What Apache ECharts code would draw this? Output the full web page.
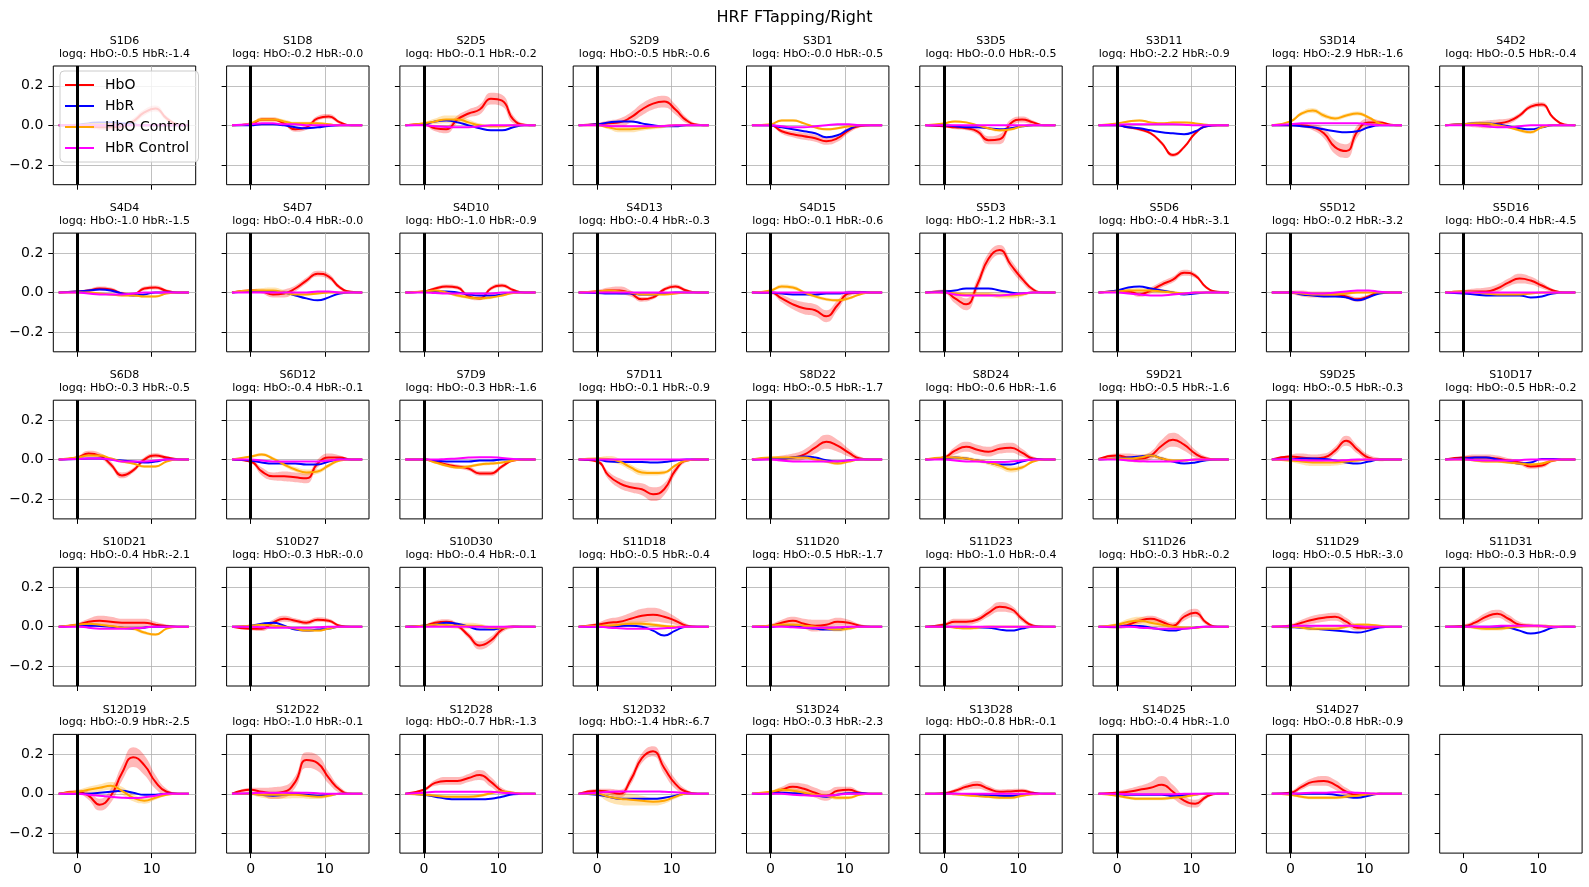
<!DOCTYPE html>
<html><head><meta charset="utf-8">
<script src="https://cdn.jsdelivr.net/npm/echarts@6/dist/echarts.min.js"></script>
<style>html,body{margin:0;padding:0;background:#fff}#c{width:1589px;height:887px}</style>
</head><body><div id="c"></div>
<script>
const chartTitle = 'HRF FTapping/Right';
const seriesNames = ['HbO', 'HbR', 'HbO Control', 'HbR Control'];
const times = [-2.5, 0, 1.5, 3, 4.5, 6, 7.5, 9, 10.5, 12, 13.5, 15];
const xTicks = [0, 10];
const yTicks = [-0.2, 0, 0.2];
const stimOnset = 0;
const channels = ['S1D6','S1D8','S2D5','S2D9','S3D1','S3D5','S3D11','S3D14','S4D2',
 'S4D4','S4D7','S4D10','S4D13','S4D15','S5D3','S5D6','S5D12','S5D16',
 'S6D8','S6D12','S7D9','S7D11','S8D22','S8D24','S9D21','S9D25','S10D17',
 'S10D21','S10D27','S10D30','S11D18','S11D20','S11D23','S11D26','S11D29','S11D31',
 'S12D19','S12D22','S12D28','S12D32','S13D24','S13D28','S14D25','S14D27'];
const logqHbO = ['-0.5','-0.2','-0.1','-0.5','-0.0','-0.0','-2.2','-2.9','-0.5',
 '-1.0','-0.4','-1.0','-0.4','-0.1','-1.2','-0.4','-0.2','-0.4',
 '-0.3','-0.4','-0.3','-0.1','-0.5','-0.6','-0.5','-0.5','-0.5',
 '-0.4','-0.3','-0.4','-0.5','-0.5','-1.0','-0.3','-0.5','-0.3',
 '-0.9','-1.0','-0.7','-1.4','-0.3','-0.8','-0.4','-0.8'];
const logqHbR = ['-1.4','-0.0','-0.2','-0.6','-0.5','-0.5','-0.9','-1.6','-0.4',
 '-1.5','-0.0','-0.9','-0.3','-0.6','-3.1','-3.1','-3.2','-4.5',
 '-0.5','-0.1','-1.6','-0.9','-1.7','-1.6','-1.6','-0.3','-0.2',
 '-2.1','-0.0','-0.1','-0.4','-1.7','-0.4','-0.2','-3.0','-0.9',
 '-2.5','-0.1','-1.3','-6.7','-2.3','-0.1','-1.0','-0.9'];

// HbO mean per channel, at `times`
const hbo = [
[0,0,-0.005,-0.01,-0.01,-0.005,0.02,0.065,0.085,0.035,0.005,0],
[0,0.005,0.03,0.03,0.01,-0.02,-0.01,0.035,0.045,0.015,0,0],
[0,0.005,-0.015,-0.02,0.03,0.06,0.08,0.135,0.125,0.03,0.003,0],
[0,0.005,0.01,0.015,0.04,0.08,0.11,0.12,0.08,0.025,0.003,0],
[0,0,-0.03,-0.045,-0.055,-0.065,-0.08,-0.065,-0.025,-0.003,0,0],
[0,-0.005,-0.01,-0.015,-0.03,-0.075,-0.07,0.01,0.03,0.015,0,0],
[0,0,-0.01,-0.02,-0.04,-0.09,-0.15,-0.11,-0.04,-0.005,0,0],
[0,0,0,-0.01,-0.04,-0.11,-0.13,-0.03,0.015,0.015,0.003,0],
[0,0.005,0.005,0.005,0.01,0.02,0.05,0.095,0.105,0.04,0.005,0],
[0,0.005,0.01,0.02,0.015,-0.005,-0.01,0.02,0.025,0.008,0,0],
[0,0.01,0.005,-0.01,-0.005,0.02,0.06,0.095,0.08,0.025,0.003,0],
[0,0.005,0.02,0.03,0.025,-0.02,-0.03,0.02,0.035,0.012,0,0],
[0,0.005,0.01,0.01,-0.005,-0.035,-0.025,0.015,0.03,0.01,0,0],
[0,0,-0.03,-0.06,-0.08,-0.09,-0.12,-0.065,-0.005,0,0,0],
[0,0.005,-0.03,-0.06,0.04,0.17,0.215,0.14,0.07,0.015,0,0],
[0,0.005,0.005,-0.01,0.01,0.04,0.065,0.1,0.085,0.025,0.003,0],
[0,0,-0.005,-0.01,-0.01,-0.01,-0.02,-0.035,-0.02,0,0,0],
[0,0.005,0.005,0.005,0.02,0.05,0.07,0.06,0.035,0.01,0,0],
[0,0.01,0.03,0.02,-0.025,-0.08,-0.055,0,0.02,0.01,0.002,0],
[0,-0.01,-0.06,-0.085,-0.085,-0.09,-0.095,-0.02,0.01,0.01,0,0],
[0,0,-0.01,-0.025,-0.035,-0.045,-0.07,-0.07,-0.035,-0.005,0,0],
[0,-0.01,-0.08,-0.12,-0.14,-0.15,-0.175,-0.15,-0.055,-0.005,0,0],
[0,0.003,0.005,0.01,0.025,0.06,0.09,0.07,0.035,0.005,0,0],
[0,0.01,0.045,0.065,0.05,0.04,0.055,0.06,0.035,0.005,0,0],
[0.003,0.02,0.01,0.005,0.02,0.07,0.1,0.075,0.03,0.005,0,0],
[0,0.015,0.01,0.005,0.01,0.045,0.095,0.05,0.01,0,0,0],
[0,0.01,0.01,0.01,0.005,-0.005,-0.015,-0.035,-0.03,-0.005,0,0],
[0,0.01,0.025,0.03,0.025,0.02,0.02,0.02,0.01,0.003,0,0],
[0,-0.01,-0.01,0.02,0.04,0.03,0.02,0.035,0.03,0.005,0,0],
[0,0.005,0.02,0.025,0.005,-0.045,-0.095,-0.07,-0.015,0,0,0],
[0,0.01,0.02,0.025,0.04,0.055,0.06,0.05,0.03,0.005,0,0],
[0,0.005,0.02,0.03,0.015,0.005,0.01,0.025,0.02,0.005,0,0],
[0,0.01,0.025,0.025,0.035,0.07,0.1,0.09,0.04,0.005,0,0],
[0,0,0.01,0.03,0.04,0.025,0.005,0.05,0.07,0.02,0,0],
[0,0.005,0.02,0.035,0.045,0.05,0.025,-0.005,-0.005,0,0,0],
[0,0.003,0.02,0.05,0.065,0.04,0.01,0.005,0.003,0,0,0],
[0,0.01,-0.01,-0.055,-0.01,0.105,0.185,0.145,0.06,0.01,0,0],
[0,0.02,0.01,0.003,0.01,0.06,0.17,0.155,0.08,0.02,0,0],
[0,0.02,0.055,0.065,0.065,0.08,0.095,0.06,0.015,0.003,0,0],
[0,0.015,0.01,0,0.07,0.18,0.215,0.13,0.05,0.01,0,0],
[0,0.005,0.02,0.035,0.025,0.005,-0.01,0.015,0.02,0.005,0,0],
[0,0.003,0.015,0.035,0.045,0.025,0.01,0.012,0.015,0.005,0,0],
[0,0.005,0.01,0.02,0.03,0.045,0.01,-0.035,-0.05,-0.015,0,0],
[0,0.005,0.035,0.06,0.065,0.045,0.01,-0.005,-0.003,0,0,0]
];
// HbR mean
const hbr = [
[0,0.003,0.01,0.015,0.015,0.01,0.005,0,0,0,0,0],
[0,0,0.005,0.005,0,-0.01,-0.015,-0.01,-0.003,0,0,0],
[0,0.005,0.02,0.025,0.015,0,-0.015,-0.025,-0.025,-0.01,0,0],
[0,0.005,0.015,0.02,0.02,0.01,0,-0.005,-0.005,0,0,0],
[0,0,-0.01,-0.02,-0.03,-0.04,-0.06,-0.05,-0.02,0,0,0],
[0,0,-0.005,-0.01,-0.01,-0.015,-0.02,-0.015,-0.005,0,0,0],
[0,0,-0.01,-0.015,-0.025,-0.035,-0.04,-0.045,-0.03,-0.005,0,0],
[0,0,-0.005,-0.01,-0.02,-0.03,-0.035,-0.03,-0.01,0,0,0],
[0,0.005,0.01,0.01,0.005,-0.005,-0.015,-0.02,-0.01,0,0,0],
[0,0.005,0.01,0.015,0.01,-0.005,-0.015,-0.01,0,0,0,0],
[0,0.005,0.005,0.005,0,-0.015,-0.03,-0.04,-0.025,-0.005,0,0],
[0,0.003,0.005,0.005,0,-0.01,-0.015,-0.015,-0.01,0,0,0],
[0,-0.003,-0.005,-0.005,-0.005,-0.01,-0.01,-0.005,0,0,0,0],
[0,0,-0.005,-0.01,-0.01,-0.01,-0.005,-0.005,0,0,0,0],
[0,0.005,0.01,0.02,0.02,0.02,0.01,0,-0.005,0,0,0],
[0,0.01,0.025,0.03,0.02,0.01,0,-0.01,-0.005,0,0,0],
[0,0,-0.01,-0.015,-0.02,-0.02,-0.025,-0.04,-0.025,-0.005,0,0],
[0,-0.005,-0.01,-0.015,-0.015,-0.015,-0.015,-0.025,-0.02,-0.005,0,0],
[0,0.003,0.005,0.005,0,-0.005,-0.01,-0.015,-0.01,0,0,0],
[0,-0.005,-0.015,-0.02,-0.02,-0.02,-0.025,-0.025,-0.01,0,0,0],
[0,0,-0.005,-0.01,-0.01,-0.01,-0.005,-0.005,0,0,0,0],
[0,0,-0.01,-0.012,-0.012,-0.012,-0.015,-0.012,-0.005,0,0,0],
[0,0.003,0.005,0.01,0.015,0.01,-0.003,-0.01,-0.005,0,0,0],
[0,0.005,0.01,0.005,-0.005,-0.015,-0.025,-0.025,-0.01,0,0,0],
[0,0.005,0.01,0.015,0.02,0.005,-0.01,-0.02,-0.015,-0.003,0,0],
[0,0,0.005,0.005,0.003,-0.005,-0.015,-0.02,-0.01,0,0,0],
[0,0.005,0.01,0.01,0,-0.01,-0.02,-0.015,0.003,0.003,0,0],
[0,0.003,0.005,0.003,0,-0.005,-0.01,-0.005,0,0,0,0],
[0,0.005,0.015,0.02,0.005,-0.015,-0.02,-0.015,-0.01,0,0,0],
[0,0.005,0.01,0.02,0.015,0,-0.015,-0.015,-0.005,0,0,0],
[0,0,0,0.003,0.005,0,-0.02,-0.045,-0.02,0,0,0],
[0,0,0.005,0.003,-0.005,-0.01,-0.015,-0.015,-0.005,0,0,0],
[0,0,0,0,-0.003,-0.005,-0.015,-0.02,-0.01,0,0,0],
[0,0,0.003,0.003,-0.005,-0.015,-0.02,-0.01,-0.005,0,0,0],
[0,-0.003,-0.005,-0.01,-0.015,-0.02,-0.025,-0.03,-0.02,-0.005,0,0],
[0,0,0,0,0,-0.005,-0.02,-0.035,-0.025,-0.005,0,0],
[0,0,0,0.005,0.01,0.015,0.005,-0.005,-0.005,0,0,0],
[0,0,-0.005,-0.01,-0.005,0,-0.005,-0.01,-0.005,0,0,0],
[0,-0.005,-0.015,-0.025,-0.028,-0.028,-0.028,-0.025,-0.015,-0.003,0,0],
[0,-0.005,-0.015,-0.025,-0.025,-0.025,-0.025,-0.02,-0.01,0,0,0],
[0,0.003,0.005,0.003,0,-0.008,-0.015,-0.005,0.003,0.003,0,0],
[0,0,0,-0.003,-0.005,-0.008,-0.01,-0.012,-0.005,0,0,0],
[0,-0.003,-0.005,-0.005,-0.005,-0.005,-0.01,-0.008,-0.003,0,0,0],
[0,0,0,0,0,-0.005,-0.015,-0.02,-0.01,0,0,0]
];
// HbO Control mean
const hboCtl = [
[0,0,0.005,0.005,0.005,0,0,0,0,0,0,0],
[0,0.01,0.03,0.03,0.02,0.01,0.01,0.01,0.005,0,0,0],
[0,0.01,0.02,0.03,0.03,0.015,0,-0.005,-0.005,0,0,0],
[0,0,-0.01,-0.02,-0.02,-0.015,-0.01,-0.005,0,0,0,0],
[0,0.005,0.025,0.025,0.01,-0.01,-0.02,-0.015,-0.005,0,0,0],
[0,0.01,0.02,0.015,0,-0.015,-0.025,-0.02,-0.005,0,0,0],
[0,0.01,0.02,0.025,0.015,0.01,0.015,0.015,0.01,0.003,0,0],
[0,0.02,0.06,0.075,0.05,0.035,0.05,0.06,0.04,0.01,0,0],
[0,0.005,0.01,0.01,0,-0.01,-0.025,-0.035,-0.01,0,0,0],
[0,0,0,-0.005,-0.01,-0.015,-0.015,-0.02,-0.02,-0.005,0,0],
[0,0.01,0.01,0.01,0,-0.01,-0.01,-0.005,0,0,0,0],
[0,0.005,0.01,0,-0.015,-0.025,-0.03,-0.025,-0.015,-0.003,0,0],
[0,0.005,0.01,0.005,0,-0.01,-0.01,-0.01,-0.005,0,0,0],
[0,0.01,0.03,0.025,0,-0.02,-0.035,-0.04,-0.03,-0.01,0,0],
[0,0,-0.005,-0.01,-0.01,-0.01,-0.015,-0.015,-0.01,0,0,0],
[0,0.005,0.01,0.01,0.01,0.005,0,-0.005,0,0,0,0],
[0,0,-0.005,-0.01,-0.01,-0.01,-0.005,0,0,0,0,0],
[0,0.005,0,-0.005,-0.01,-0.01,-0.01,-0.005,0,0,0,0],
[0,0.01,0.02,0.02,0.005,-0.01,-0.02,-0.035,-0.035,-0.01,0,0],
[0,0.015,0.025,0.005,-0.025,-0.05,-0.065,-0.06,-0.03,-0.005,0,0],
[0,0,-0.015,-0.03,-0.04,-0.035,-0.025,-0.02,-0.015,-0.005,0,0],
[0,0.005,0.003,-0.01,-0.04,-0.065,-0.068,-0.065,-0.03,-0.005,0,0],
[0,0.01,0.01,0.01,0.01,0,-0.01,-0.02,-0.01,0,0,0],
[0,0.01,0.01,0.005,-0.005,-0.015,-0.03,-0.05,-0.04,-0.01,0,0],
[0,0.005,0.005,0.01,0.02,0.005,-0.005,-0.005,0,0,0,0],
[0,-0.005,-0.01,-0.015,-0.015,-0.015,-0.01,-0.005,0,0,0,0],
[0,0,-0.005,-0.01,-0.01,-0.015,-0.02,-0.025,-0.02,-0.005,0,0],
[0,0.01,0.015,0.01,0.003,-0.005,-0.01,-0.03,-0.04,-0.01,0,0],
[0,0.005,0.01,0.005,0,-0.01,-0.02,-0.02,-0.01,0,0,0],
[0,0.005,0.01,0.008,0.005,0.005,0.003,-0.005,-0.005,0,0,0],
[0,0.005,0.005,0.01,0.015,0.015,0.01,0.003,0,0,0,0],
[0,0.005,0.01,0.01,0.005,0,-0.01,-0.015,-0.01,0,0,0],
[0,0,-0.005,-0.008,-0.005,0,0,0,0,0,0,0],
[0,0.01,0.025,0.03,0.02,0.01,0,-0.005,-0.005,0,0,0],
[0,0,-0.005,-0.01,-0.01,-0.01,0,0.01,0.01,0.005,0,0],
[0,0,-0.005,-0.01,-0.01,-0.005,0,0.003,0.003,0,0,0],
[0,0.01,0.02,0.03,0.04,0.015,-0.02,-0.035,-0.02,-0.005,0,0],
[0,0,-0.005,-0.005,-0.005,-0.005,-0.01,-0.015,-0.01,0,0,0],
[0,-0.005,-0.01,-0.015,-0.015,-0.015,-0.01,0.003,0.012,0.005,0,0],
[0,0,-0.015,-0.025,-0.03,-0.035,-0.04,-0.035,-0.015,0,0,0],
[0,0.01,0.02,0.015,0.005,-0.005,-0.01,-0.02,-0.02,-0.005,0,0],
[0,0,-0.003,-0.008,-0.012,-0.015,-0.02,-0.02,-0.01,-0.003,0,0],
[0,-0.01,-0.02,-0.025,-0.025,-0.025,-0.02,-0.015,-0.005,0,0,0],
[0,-0.005,-0.015,-0.02,-0.02,-0.02,-0.015,-0.01,-0.003,0,0,0]
];
// HbR Control mean
const hbrCtl = [
[0,0,0,0,0,0,0,0,0,0,0,0],
[0,0.005,0.01,0.01,0.005,0.005,0,0,0,0,0,0],
[0,0,-0.005,-0.008,-0.01,-0.01,-0.005,0,0,0,0,0],
[0,0,-0.003,-0.005,-0.005,-0.005,-0.005,-0.003,0,0,0,0],
[0,0,-0.005,-0.01,-0.01,-0.005,0,0.005,0.005,0,0,0],
[0,0,0,0,0,0,0,0,0,0,0,0],
[0,0.003,0.005,0.005,0.005,0.005,0.005,0.003,0,0,0,0],
[0,0.005,0.01,0.01,0.01,0.01,0.01,0.01,0.005,0,0,0],
[0,0,0,-0.005,-0.01,-0.01,-0.005,0,0,0,0,0],
[0,0,-0.005,-0.01,-0.01,-0.01,-0.005,0,0,0,0,0],
[0,0,0,0,0,0,0,0.005,0.005,0,0,0],
[0,0,-0.003,-0.005,-0.005,-0.005,-0.005,-0.005,0,0,0,0],
[0,0,0,0,0,0,0,0,0,0,0,0],
[0,0,0,0,0,0,0,0,0,0,0,0],
[0,0,-0.01,-0.015,-0.015,-0.015,-0.015,-0.01,-0.005,0,0,0],
[0,0,-0.005,-0.01,-0.015,-0.015,-0.01,-0.005,0,0,0,0],
[0,0,0,-0.005,-0.005,0,0.005,0.01,0.01,0.003,0,0],
[0,0,0,0,0,0,0,0,0,0,0,0],
[0,0.003,0.005,0.005,0,-0.01,-0.01,-0.01,-0.005,0,0,0],
[0,0,-0.005,-0.01,-0.01,-0.01,-0.01,-0.01,-0.005,0,0,0],
[0,0,0,0.003,0.005,0.01,0.012,0.012,0.008,0.003,0,0],
[0,0,0,0,0,0,0,0,0,0,0,0],
[0,0,-0.005,-0.01,-0.01,-0.01,-0.01,-0.008,-0.005,0,0,0],
[0,0,-0.005,-0.01,-0.01,-0.012,-0.012,-0.01,-0.005,0,0,0],
[0,0,-0.005,-0.008,-0.01,-0.01,-0.01,-0.005,0,0,0,0],
[0,0,-0.003,-0.005,-0.005,-0.005,-0.003,0,0,0,0,0],
[0,0,-0.003,-0.005,-0.005,-0.005,-0.003,0,0,0,0,0],
[0,0,-0.005,-0.01,-0.01,-0.01,-0.008,-0.005,0,0,0,0],
[0,0,-0.003,-0.005,-0.005,-0.005,-0.005,-0.003,0,0,0,0],
[0,0,0,0,0,0,0,0,0,0,0,0],
[0,0,-0.005,-0.008,-0.01,-0.01,-0.01,-0.008,-0.005,0,0,0],
[0,0,0,-0.003,-0.005,-0.005,-0.005,-0.003,0,0,0,0],
[0,0,0,0,0,0,0,0,0,0,0,0],
[0,0,0,-0.005,-0.008,-0.01,-0.01,-0.01,-0.005,0,0,0],
[0,0.003,0.005,0.005,0.005,0.005,0.005,0.003,0,0,0,0],
[0,0,0,0,0.003,0.005,0.005,0.005,0.003,0,0,0],
[0,0,-0.005,-0.01,-0.015,-0.02,-0.022,-0.018,-0.01,0,0,0],
[0,0.003,0.005,0.005,0.005,0.005,0.005,0.003,0,0,0,0],
[0,0.005,0.01,0.01,0.01,0.01,0.01,0.01,0.005,0.003,0,0],
[0,0.005,0.01,0.012,0.012,0.012,0.012,0.01,0.008,0.003,0,0],
[0,0,0,-0.005,-0.008,-0.01,-0.01,-0.005,0,0,0,0],
[0,0,0,0,0,0,0,0,0,0,0,0],
[0,0,-0.003,-0.003,-0.003,-0.003,-0.003,0,0,0,0,0],
[0,0,0.003,0.005,0.005,0.008,0.008,0.005,0.003,0,0,0]
];
// half-width of the HbO shaded band
const hboErr = [
[0,0.005,0.01,0.012,0.012,0.012,0.015,0.015,0.015,0.012,0.005,0],
[0,0.005,0.01,0.01,0.01,0.012,0.012,0.012,0.012,0.008,0.003,0],
[0,0.008,0.015,0.02,0.02,0.02,0.025,0.03,0.03,0.02,0.005,0],
[0,0.008,0.015,0.02,0.025,0.03,0.03,0.03,0.025,0.015,0.005,0],
[0,0.005,0.012,0.015,0.018,0.018,0.018,0.018,0.015,0.008,0.002,0],
[0,0.005,0.01,0.01,0.015,0.02,0.025,0.02,0.015,0.01,0.003,0],
[0,0.003,0.006,0.008,0.008,0.01,0.01,0.01,0.008,0.005,0.002,0],
[0,0.005,0.01,0.015,0.025,0.035,0.035,0.03,0.02,0.01,0.003,0],
[0,0.008,0.015,0.02,0.02,0.015,0.012,0.012,0.012,0.008,0.003,0],
[0,0.005,0.008,0.01,0.01,0.008,0.008,0.01,0.01,0.008,0.003,0],
[0,0.005,0.01,0.015,0.02,0.015,0.015,0.015,0.015,0.01,0.003,0],
[0,0.005,0.008,0.01,0.01,0.01,0.01,0.01,0.01,0.008,0.003,0],
[0,0.008,0.015,0.02,0.015,0.012,0.01,0.01,0.01,0.008,0.003,0],
[0,0.008,0.02,0.025,0.03,0.03,0.03,0.025,0.015,0.008,0.002,0],
[0,0.01,0.025,0.03,0.03,0.03,0.025,0.025,0.02,0.01,0.003,0],
[0,0.008,0.01,0.012,0.015,0.015,0.015,0.015,0.012,0.008,0.003,0],
[0,0.008,0.015,0.015,0.015,0.012,0.012,0.012,0.01,0.005,0.002,0],
[0,0.008,0.015,0.02,0.02,0.02,0.025,0.02,0.015,0.008,0.003,0],
[0,0.008,0.015,0.015,0.015,0.015,0.012,0.012,0.012,0.008,0.003,0],
[0,0.008,0.02,0.02,0.025,0.025,0.025,0.02,0.02,0.01,0.003,0],
[0,0.005,0.008,0.01,0.01,0.012,0.012,0.012,0.01,0.005,0.002,0],
[0,0.008,0.02,0.025,0.025,0.03,0.035,0.03,0.02,0.008,0.002,0],
[0,0.008,0.015,0.02,0.025,0.03,0.035,0.03,0.02,0.01,0.003,0],
[0,0.008,0.02,0.025,0.025,0.025,0.025,0.025,0.02,0.01,0.003,0],
[0,0.01,0.02,0.02,0.02,0.03,0.035,0.03,0.02,0.01,0.003,0],
[0,0.01,0.02,0.02,0.02,0.02,0.025,0.02,0.015,0.008,0.003,0],
[0,0.008,0.015,0.015,0.015,0.012,0.012,0.012,0.012,0.008,0.003,0],
[0,0.008,0.015,0.025,0.025,0.02,0.02,0.02,0.015,0.008,0.003,0],
[0,0.008,0.012,0.015,0.015,0.012,0.012,0.012,0.01,0.006,0.002,0],
[0,0.005,0.01,0.012,0.012,0.015,0.02,0.02,0.015,0.008,0.002,0],
[0,0.01,0.02,0.025,0.03,0.035,0.035,0.03,0.02,0.01,0.003,0],
[0,0.008,0.015,0.02,0.025,0.03,0.025,0.02,0.015,0.008,0.003,0],
[0,0.008,0.015,0.015,0.015,0.02,0.025,0.02,0.015,0.008,0.003,0],
[0,0.01,0.015,0.015,0.015,0.015,0.015,0.02,0.02,0.01,0.003,0],
[0,0.008,0.015,0.02,0.02,0.02,0.02,0.015,0.01,0.005,0.002,0],
[0,0.008,0.015,0.02,0.02,0.02,0.015,0.01,0.01,0.005,0.002,0],
[0,0.01,0.02,0.03,0.035,0.04,0.05,0.05,0.035,0.015,0.005,0],
[0,0.01,0.02,0.03,0.03,0.03,0.04,0.04,0.03,0.015,0.005,0],
[0,0.008,0.015,0.02,0.02,0.02,0.025,0.025,0.015,0.008,0.003,0],
[0,0.01,0.015,0.02,0.025,0.025,0.025,0.03,0.025,0.012,0.004,0],
[0,0.008,0.015,0.02,0.025,0.025,0.025,0.02,0.015,0.008,0.003,0],
[0,0.005,0.01,0.015,0.02,0.015,0.012,0.012,0.01,0.006,0.002,0],
[0,0.008,0.015,0.02,0.03,0.045,0.035,0.025,0.02,0.01,0.003,0],
[0,0.008,0.015,0.02,0.025,0.025,0.02,0.012,0.01,0.005,0.002,0]
];
// half-width of the HbO Control shaded band
const ctlErr = [
[0,0.003,0.005,0.005,0.005,0.005,0.005,0.005,0.005,0.003,0,0],
[0,0.005,0.01,0.01,0.01,0.008,0.008,0.008,0.005,0.003,0,0],
[0,0.008,0.015,0.02,0.02,0.015,0.01,0.008,0.005,0.003,0,0],
[0,0.005,0.01,0.015,0.015,0.012,0.01,0.008,0.005,0.003,0,0],
[0,0.003,0.006,0.006,0.006,0.006,0.006,0.006,0.005,0.003,0,0],
[0,0.003,0.005,0.005,0.006,0.006,0.008,0.008,0.005,0.003,0,0],
[0,0.003,0.005,0.005,0.005,0.005,0.005,0.005,0.005,0.003,0,0],
[0,0.005,0.01,0.012,0.012,0.01,0.01,0.01,0.008,0.005,0,0],
[0,0.003,0.005,0.005,0.005,0.005,0.008,0.008,0.005,0.003,0,0],
[0,0.003,0.005,0.005,0.006,0.006,0.006,0.006,0.006,0.003,0,0],
[0,0.005,0.012,0.015,0.012,0.008,0.006,0.005,0.005,0.003,0,0],
[0,0.003,0.005,0.006,0.008,0.008,0.008,0.008,0.006,0.003,0,0],
[0,0.003,0.006,0.006,0.006,0.006,0.006,0.006,0.005,0.003,0,0],
[0,0.005,0.01,0.01,0.008,0.008,0.008,0.008,0.008,0.004,0,0],
[0,0.005,0.01,0.012,0.012,0.012,0.015,0.015,0.01,0.005,0,0],
[0,0.005,0.01,0.012,0.015,0.012,0.008,0.006,0.005,0.003,0,0],
[0,0.005,0.01,0.012,0.012,0.01,0.008,0.006,0.005,0.003,0,0],
[0,0.003,0.006,0.006,0.006,0.006,0.006,0.005,0.005,0.003,0,0],
[0,0.003,0.006,0.006,0.006,0.006,0.006,0.006,0.006,0.003,0,0],
[0,0.005,0.008,0.008,0.01,0.012,0.015,0.012,0.01,0.005,0,0],
[0,0.003,0.006,0.008,0.008,0.008,0.008,0.008,0.006,0.003,0,0],
[0,0.005,0.015,0.015,0.015,0.015,0.012,0.01,0.008,0.004,0,0],
[0,0.003,0.006,0.006,0.006,0.006,0.008,0.008,0.006,0.003,0,0],
[0,0.005,0.01,0.01,0.01,0.012,0.015,0.015,0.01,0.005,0,0],
[0,0.005,0.01,0.012,0.012,0.01,0.008,0.006,0.005,0.003,0,0],
[0,0.008,0.015,0.018,0.018,0.015,0.012,0.008,0.005,0.003,0,0],
[0,0.003,0.006,0.008,0.008,0.008,0.008,0.008,0.006,0.003,0,0],
[0,0.003,0.006,0.006,0.006,0.006,0.008,0.008,0.006,0.003,0,0],
[0,0.003,0.006,0.006,0.006,0.006,0.006,0.006,0.005,0.003,0,0],
[0,0.005,0.01,0.012,0.015,0.015,0.012,0.008,0.005,0.003,0,0],
[0,0.005,0.01,0.012,0.012,0.012,0.01,0.008,0.005,0.003,0,0],
[0,0.005,0.008,0.01,0.01,0.01,0.01,0.01,0.008,0.004,0,0],
[0,0.003,0.006,0.008,0.008,0.006,0.005,0.005,0.005,0.003,0,0],
[0,0.008,0.015,0.02,0.018,0.015,0.01,0.008,0.006,0.003,0,0],
[0,0.005,0.008,0.01,0.01,0.01,0.008,0.008,0.006,0.003,0,0],
[0,0.005,0.008,0.01,0.01,0.008,0.006,0.005,0.005,0.003,0,0],
[0,0.008,0.015,0.018,0.02,0.02,0.018,0.015,0.01,0.005,0,0],
[0,0.008,0.015,0.02,0.02,0.018,0.015,0.012,0.008,0.004,0,0],
[0,0.005,0.008,0.008,0.008,0.008,0.008,0.008,0.006,0.003,0,0],
[0,0.01,0.025,0.03,0.03,0.025,0.02,0.015,0.01,0.005,0,0],
[0,0.005,0.01,0.012,0.012,0.01,0.01,0.01,0.008,0.004,0,0],
[0,0.003,0.006,0.006,0.006,0.006,0.008,0.008,0.006,0.003,0,0],
[0,0.005,0.008,0.008,0.008,0.008,0.008,0.008,0.006,0.003,0,0],
[0,0.005,0.008,0.008,0.008,0.008,0.008,0.006,0.005,0.003,0,0]
];

const colors = { 'HbO': '#ff0000', 'HbR': '#0000ff', 'HbO Control': '#ffa500', 'HbR Control': '#ff00ff' };
const bandColors = { 'HbO': 'rgba(255,0,0,0.28)', 'HbO Control': 'rgba(255,165,0,0.3)' };

const NCOL = 9, NROW = 5;
const GX0 = 53.3, GDX = 173.3, GW = 142.4;
const GY0 = 66, GDY = 167.1, GH = 118.7;
const FONT = 'DejaVu Sans';

const grids = [], xAxes = [], yAxes = [], titles = [], series = [];
titles.push({ text: chartTitle, left: 794.5, top: 10, textAlign: 'center', padding: 0,
  textStyle: { fontSize: 16, fontWeight: 'normal', color: '#000', fontFamily: FONT } });

for (let i = 0; i < NCOL * NROW; i++) {
  const r = Math.floor(i / NCOL), c = i % NCOL;
  const left = GX0 + c * GDX, top = GY0 + r * GDY;
  const used = i < channels.length;
  grids.push({ left: left, top: top, width: GW, height: GH, show: true,
    borderColor: '#000', borderWidth: 1, backgroundColor: 'transparent', containLabel: false });
  xAxes.push({ type: 'value', gridIndex: i, min: -3.23, max: 15.91,
    axisLine: { show: false, onZero: false },
    axisTick: { show: true, customValues: xTicks, length: 5, lineStyle: { color: '#000', width: 1 } },
    axisLabel: { show: r === NROW - 1, customValues: xTicks, fontSize: 14, color: '#000', margin: 9, fontFamily: FONT },
    splitLine: { show: used, lineStyle: { color: '#b0b0b0', width: 0.8 } } });
  yAxes.push({ type: 'value', gridIndex: i, min: -0.3, max: 0.3,
    axisLine: { show: false, onZero: false },
    axisTick: { show: true, customValues: yTicks, length: 5, lineStyle: { color: '#000', width: 1 } },
    axisLabel: { show: c === 0, customValues: yTicks, fontSize: 14, color: '#000', margin: 10, fontFamily: FONT,
      formatter: v => (v < 0 ? '\u2212' : '') + Math.abs(v).toFixed(1) },
    splitLine: { show: used, lineStyle: { color: '#b0b0b0', width: 0.8 } } });
  if (!used) continue;

  titles.push({ text: channels[i] + '\nlogq: HbO:' + logqHbO[i] + ' HbR:' + logqHbR[i],
    left: left + GW / 2, top: top - 31, textAlign: 'center', padding: 0,
    textStyle: { fontSize: 11, fontWeight: 'normal', lineHeight: 12.5, color: '#000', fontFamily: FONT } });

  // shaded band: lower edge, then the band height stacked on it (value in dim 0 so the stack runs along y)
  const band = (key, mean, err) => {
    const stackId = 'band_' + key + '_' + i;
    const common = { type: 'line', name: '_b', xAxisIndex: i, yAxisIndex: i, stack: stackId, stackStrategy: 'all',
      encode: { x: 1, y: 0 }, smooth: true, symbol: 'none', silent: true, animation: false,
      lineStyle: { opacity: 0, width: 0 }, z: 2 };
    series.push(Object.assign({}, common, { data: times.map((t, k) => [mean[k] - err[k], t]) }));
    series.push(Object.assign({}, common, { areaStyle: { color: bandColors[key], opacity: 1 },
      data: times.map((t, k) => [2 * err[k], t]) }));
  };
  band('HbO', hbo[i], hboErr[i]);
  band('HbO Control', hboCtl[i], ctlErr[i]);

  const line = (name, vals) => {
    series.push({ type: 'line', name: name, xAxisIndex: i, yAxisIndex: i, smooth: true, symbol: 'none',
      silent: true, animation: false, z: 3, lineStyle: { color: colors[name], width: 2 },
      itemStyle: { color: colors[name] }, data: times.map((t, k) => [t, vals[k]]) });
  };
  line('HbO', hbo[i]);
  line('HbR', hbr[i]);
  line('HbO Control', hboCtl[i]);
  line('HbR Control', hbrCtl[i]);

  series.push({ type: 'line', name: '_onset', xAxisIndex: i, yAxisIndex: i, data: [], silent: true, z: 5,
    markLine: { symbol: 'none', silent: true, animation: false, label: { show: false },
      lineStyle: { color: '#000', width: 3, type: 'solid' }, data: [{ xAxis: stimOnset }] } });
}

const chart = echarts.init(document.getElementById('c'), null, { renderer: 'canvas' });
chart.setOption({
  animation: false,
  backgroundColor: '#fff',
  title: titles,
  legend: { data: seriesNames.map(n => ({ name: n, icon: 'rect', itemStyle: { color: colors[n] } })),
    orient: 'vertical', left: 60, top: 71, padding: [6, 8, 6, 5], itemGap: 5,
    itemWidth: 29, itemHeight: 2, backgroundColor: 'rgba(255,255,255,0.8)', borderColor: '#cccccc',
    borderWidth: 1, borderRadius: 4, selectedMode: false,
    textStyle: { fontSize: 14, lineHeight: 16, color: '#000', fontFamily: FONT, padding: [0, 0, 0, 6] } },
  grid: grids, xAxis: xAxes, yAxis: yAxes, series: series
});
</script></body></html>
